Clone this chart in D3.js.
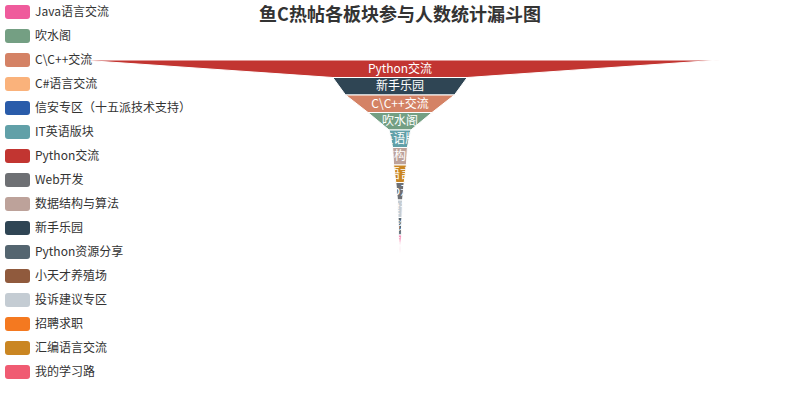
<!DOCTYPE html>
<html>
<head>
<meta charset="utf-8">
<script src="https://cdn.jsdelivr.net/npm/d3@7"></script>
<style>
  body { margin: 0; background: #fff; }
  svg { display: block; font-family: "Microsoft YaHei", "Noto Sans CJK SC", sans-serif; }
</style>
</head>
<body>
<svg width="800" height="400"></svg>
<script>
var title = "鱼C热帖各板块参与人数统计漏斗图"

// legend order (as in the data)
var boards = ["Java语言交流", "吹水阁", "C\\C++交流", "C#语言交流", "信安专区（十五派技术支持）",
    "IT英语版块", "Python交流", "Web开发", "数据结构与算法", "新手乐园",
    "Python资源分享", "小天才养殖场", "投诉建议专区", "招聘求职", "汇编语言交流", "我的学习路"]
var people = [0.4, 10, 17, 0, 0, 3.4, 100, 1.3, 2.3, 21, 0.6, 0, 0.8, 0, 2, 0]
var colors = ["#ef5b9c", "#749f83", "#d48265", "#fab27b", "#2a5caa",
    "#61a0a8", "#c23531", "#6e7074", "#bda29a", "#2f4554",
    "#546570", "#905a3d", "#c4ccd3", "#f47920", "#ca8622", "#f05b72"]

var width = 800;
var height = 400;

var funnel_left = 80;
var funnel_width = 640;
var funnel_top = 60;
var funnel_bottom = 340;

var svg = d3.select("svg");

var items = boards.map(function(name, i) {
    return {name: name, value: people[i], color: colors[i], index: i}
})

// funnel is sorted largest first
var sorted = items.slice().sort(function(a, b) { return d3.descending(a.value, b.value) })

var yScale = d3.scaleBand()
    .domain(sorted.map(d => d.name))
    .range([funnel_top, funnel_bottom])
    .padding(0);

var wScale = d3.scaleLinear()
    .domain([0, d3.max(people)])
    .range([0, funnel_width])
    .clamp(true);

var cx = funnel_left + funnel_width / 2;

function trapezoid(d, i) {
    var next = sorted[i + 1];
    var w0 = wScale(d.value);
    var w1 = next ? wScale(next.value) : 0;
    var y0 = yScale(d.name);
    var y1 = y0 + yScale.bandwidth();
    return "M" + (cx - w0 / 2) + "," + y0 +
        "L" + (cx + w0 / 2) + "," + y0 +
        "L" + (cx + w1 / 2) + "," + y1 +
        "L" + (cx - w1 / 2) + "," + y1 + "Z";
}

var defs = svg.append("defs");
defs.selectAll("clipPath")
    .data(sorted)
    .enter()
    .append("clipPath")
    .attr("id", (d, i) => "clip" + i)
    .append("path")
    .attr("d", trapezoid);

var funnel = svg.append("g").attr("class", "funnel");

funnel.selectAll("path.piece")
    .data(sorted)
    .enter()
    .append("path")
    .attr("class", "piece")
    .attr("d", trapezoid)
    .attr("fill", d => d.color)
    .attr("stroke", "#fff")
    .attr("stroke-width", 1)
    .attr("stroke-linejoin", "round");

// labels sit inside, white; whatever falls outside the shape is not seen
funnel.selectAll("text")
    .data(sorted)
    .enter()
    .append("text")
    .attr("clip-path", (d, i) => "url(#clip" + i + ")")
    .attr("x", cx)
    .attr("y", d => yScale(d.name) + yScale.bandwidth() / 2)
    .attr("dy", "0.35em")
    .attr("text-anchor", "middle")
    .attr("fill", "#fff")
    .style("font-size", "12px")
    .text(d => d.name);

// legend: 14px icons, 10px gap
var legend = svg.append("g").attr("class", "legend");
var legendRow = d3.scaleBand()
    .domain(boards)
    .range([5, 5 + boards.length * 24 - 10])
    .paddingInner(10 / 24)
    .paddingOuter(0)
    .align(0);

var rows = legend.selectAll("g")
    .data(items)
    .enter()
    .append("g")
    .attr("transform", d => "translate(5," + legendRow(d.name) + ")");

rows.append("rect")
    .attr("width", 25)
    .attr("height", 14)
    .attr("rx", 3)
    .attr("ry", 3)
    .attr("fill", d => d.color);

rows.append("text")
    .attr("x", 30)
    .attr("y", 7)
    .attr("dy", "0.35em")
    .attr("fill", "#333")
    .style("font-size", "12px")
    .text(d => d.name);

svg.append("text")
    .attr("x", width / 2)
    .attr("y", 15)
    .attr("dy", "0.35em")
    .attr("text-anchor", "middle")
    .attr("fill", "#333")
    .style("font-size", "18px")
    .style("font-weight", "bold")
    .text(title);
</script>
</body>
</html>
